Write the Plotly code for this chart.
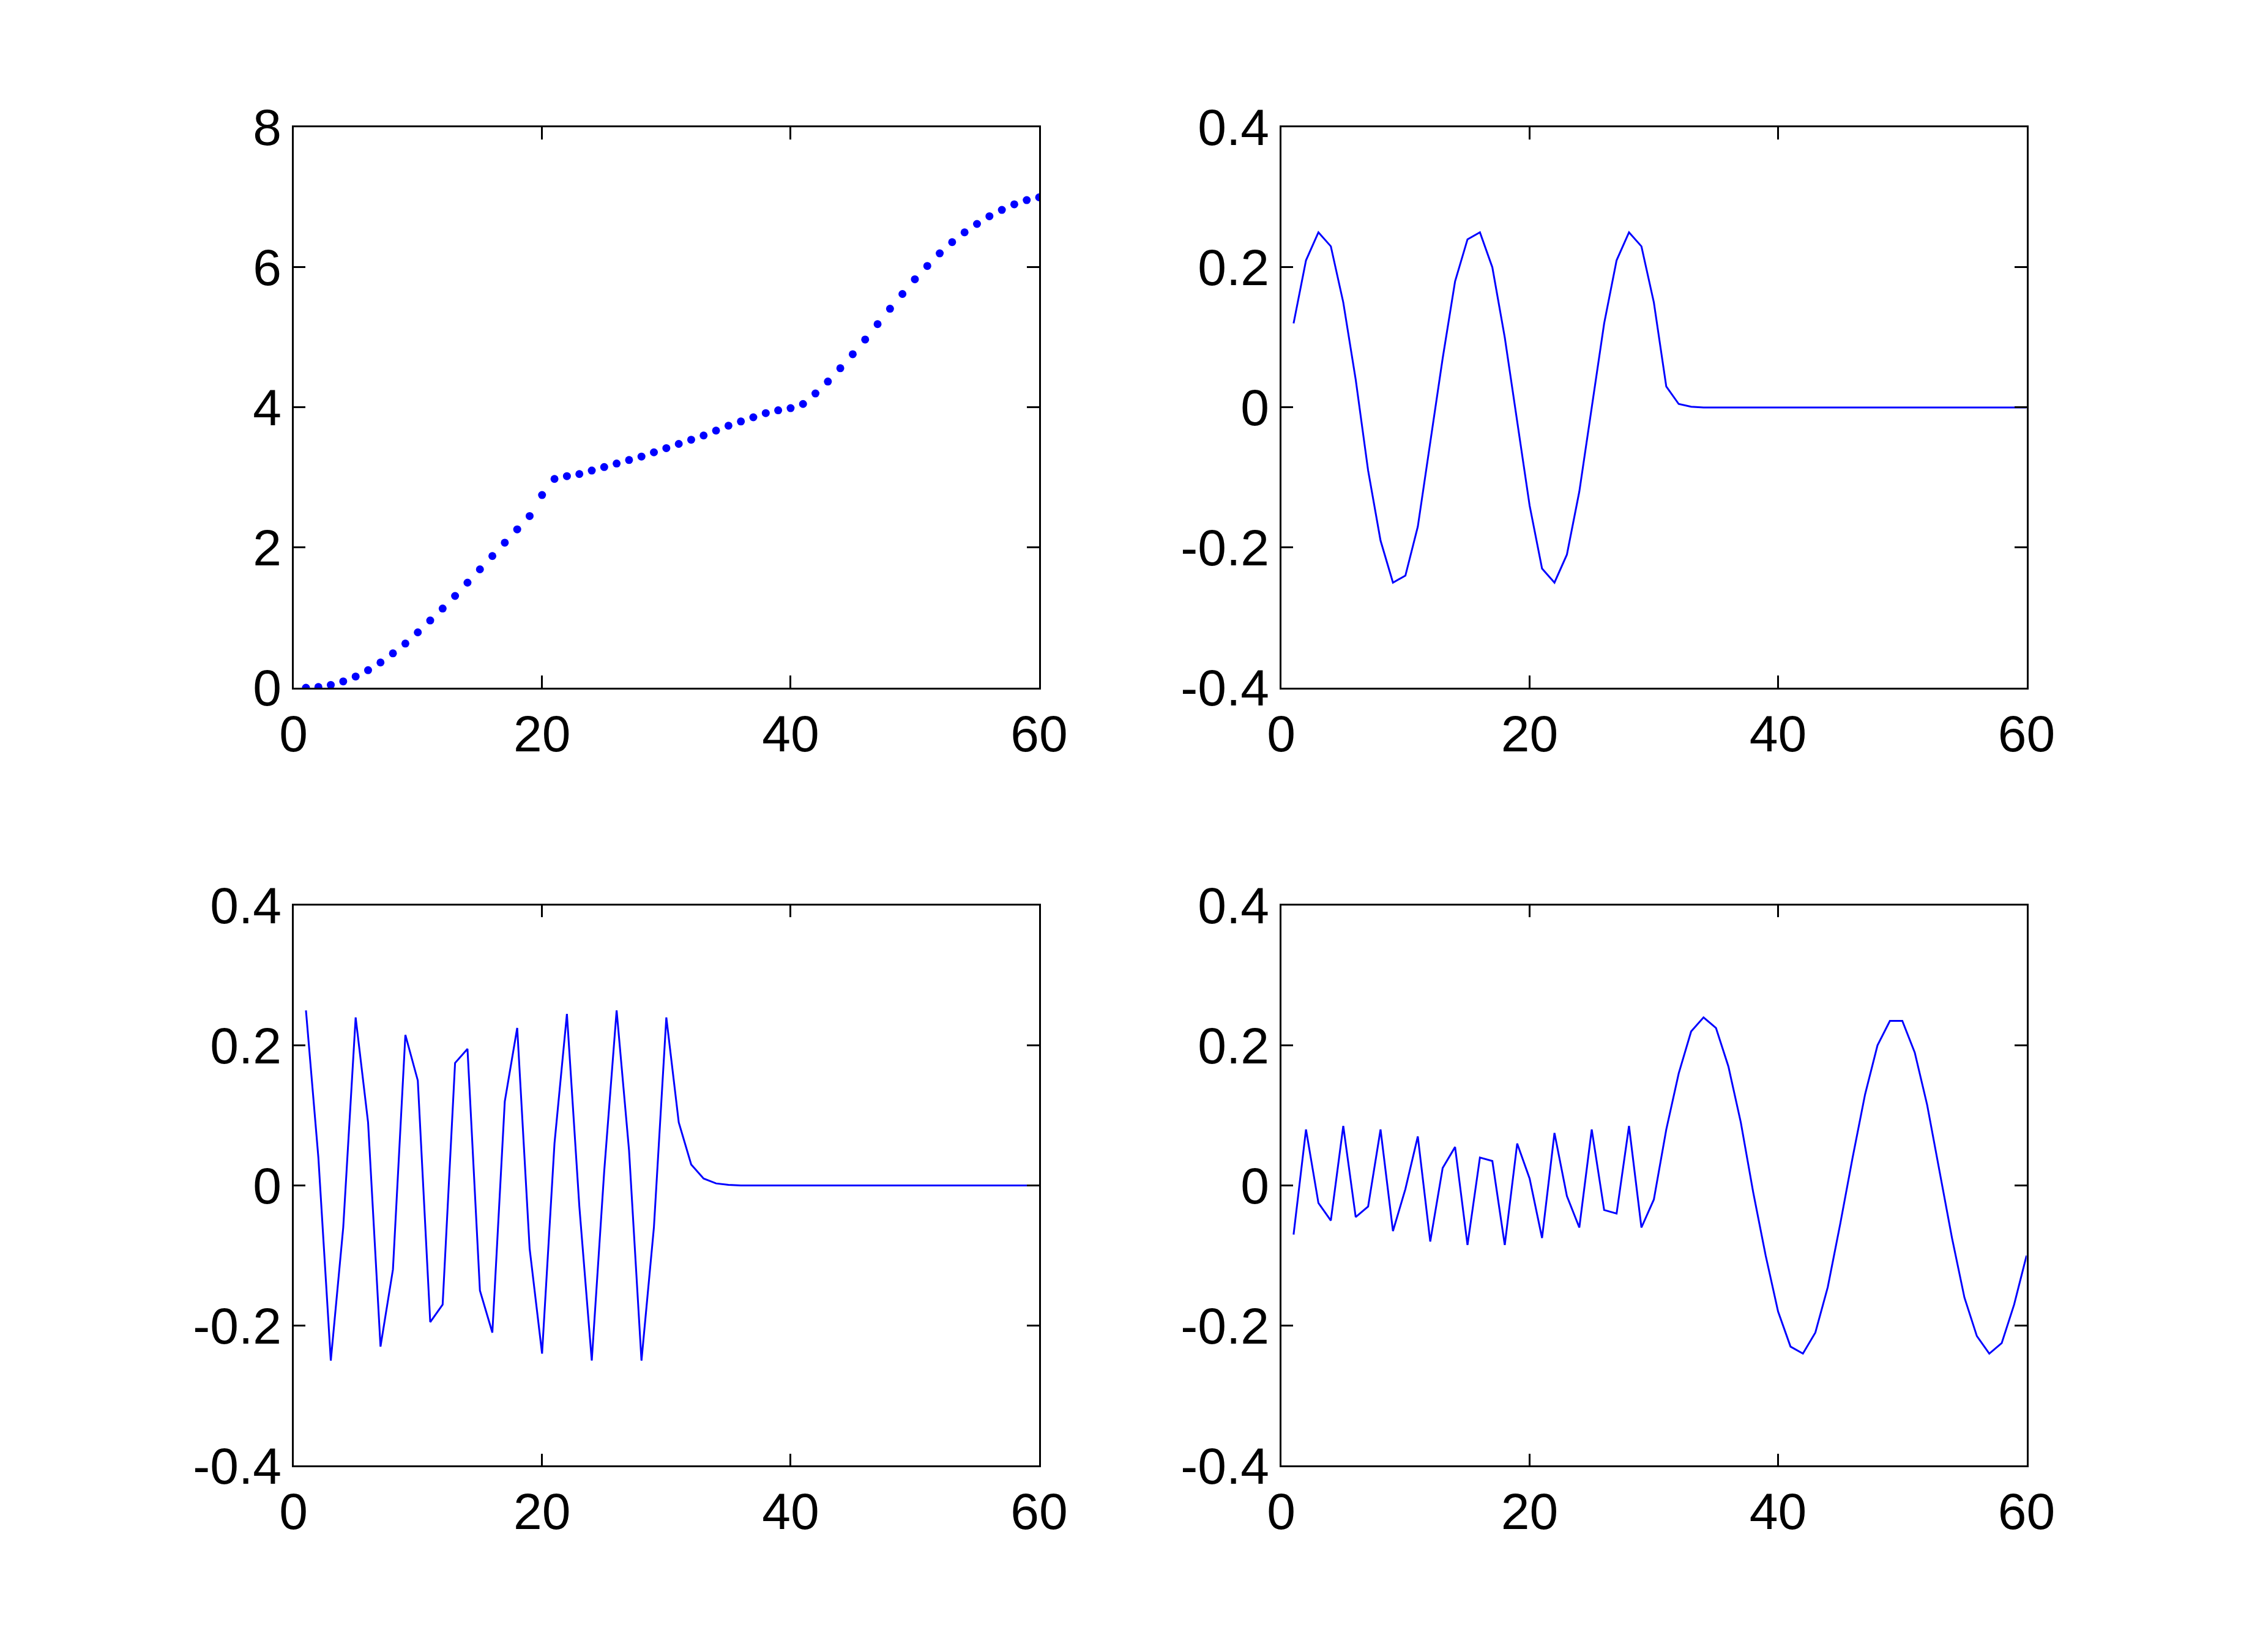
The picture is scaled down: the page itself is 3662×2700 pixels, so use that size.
import plotly.graph_objects as go
from plotly.subplots import make_subplots

x = list(range(1, 61))
cum = [0, 0.01, 0.04, 0.09, 0.16, 0.25, 0.36, 0.49, 0.63, 0.79, 0.96, 1.13, 1.31, 1.5, 1.69, 1.88, 2.07, 2.26, 2.45, 2.75,
       2.98, 3.02, 3.05, 3.1, 3.15, 3.2, 3.25, 3.3, 3.36, 3.42, 3.48, 3.54, 3.6, 3.67, 3.74, 3.8, 3.86, 3.92, 3.96, 3.99,
       4.05, 4.2, 4.37, 4.56, 4.76, 4.97, 5.19, 5.41, 5.62, 5.83, 6.02, 6.2, 6.36, 6.5, 6.62, 6.73, 6.82, 6.9, 6.96, 7.0]
sig_tr = [0.12, 0.21, 0.25, 0.23, 0.15, 0.04, -0.09, -0.19, -0.25, -0.24, -0.17, -0.05, 0.07, 0.18, 0.24, 0.25, 0.20,
          0.10, -0.02, -0.14, -0.23, -0.25, -0.21, -0.12, 0.0, 0.12, 0.21, 0.25, 0.23, 0.15, 0.03, 0.005, 0.001] + [0] * 27
sig_bl = [0.25, 0.04, -0.25, -0.06, 0.24, 0.09, -0.23, -0.12, 0.215, 0.15, -0.195, -0.17, 0.175, 0.195, -0.15, -0.21,
          0.12, 0.225, -0.09, -0.24, 0.06, 0.245, -0.03, -0.25, 0.02, 0.25, 0.05, -0.25, -0.06, 0.24, 0.09, 0.03, 0.01,
          0.003, 0.001] + [0] * 25
sig_br = [-0.07, 0.08, -0.025, -0.05, 0.085, -0.045, -0.03, 0.08, -0.065, -0.005, 0.07, -0.08, 0.025, 0.055, -0.085,
          0.04, 0.035, -0.085, 0.06, 0.01, -0.075, 0.075, -0.015, -0.06, 0.08, -0.035, -0.04, 0.085, -0.06, -0.02,
          0.08, 0.16, 0.22, 0.24, 0.225, 0.17, 0.09, -0.01, -0.1, -0.18, -0.23, -0.24, -0.21, -0.145, -0.055, 0.04,
          0.13, 0.20, 0.235, 0.235, 0.19, 0.115, 0.02, -0.075, -0.16, -0.215, -0.24, -0.225, -0.17, -0.10]

fig = make_subplots(rows=2, cols=2)
fig.add_trace(go.Scatter(x=x, y=cum, mode="markers", marker=dict(color="#0000FF", size=13)), 1, 1)
fig.add_trace(go.Scatter(x=x, y=sig_tr, mode="lines", line=dict(color="#0000FF", width=3)), 1, 2)
fig.add_trace(go.Scatter(x=x, y=sig_bl, mode="lines", line=dict(color="#0000FF", width=3)), 2, 1)
fig.add_trace(go.Scatter(x=x, y=sig_br, mode="lines", line=dict(color="#0000FF", width=3)), 2, 2)

xd = {1: [0.1249, 0.4641], 2: [0.5742, 0.9133]}
yd = {1: [0.5898, 0.9413], 2: [0.1019, 0.4533]}
ax = dict(showgrid=False, zeroline=False, showline=True, linecolor="black", linewidth=2.5, mirror="ticks",
          ticks="inside", ticklen=20, tickwidth=2.5, tickcolor="black",
          tickfont=dict(family="Liberation Sans", size=84, color="black"))
for r in (1, 2):
    for c in (1, 2):
        fig.update_xaxes(ax, range=[0, 60], tickvals=[0, 20, 40, 60], domain=xd[c], row=r, col=c)
        if r == 1 and c == 1:
            fig.update_yaxes(ax, range=[0, 8], tickvals=[0, 2, 4, 6, 8], domain=yd[r], row=r, col=c)
        else:
            fig.update_yaxes(ax, range=[-0.4, 0.4], tickvals=[-0.4, -0.2, 0, 0.2, 0.4],
                             ticktext=["-0.4", "-0.2", "0", "0.2", "0.4"], domain=yd[r], row=r, col=c)
fig.update_layout(width=3662, height=2700, showlegend=False, plot_bgcolor="white", paper_bgcolor="white",
                  margin=dict(l=0, r=0, t=0, b=0))
fig.write_html("out.html")
